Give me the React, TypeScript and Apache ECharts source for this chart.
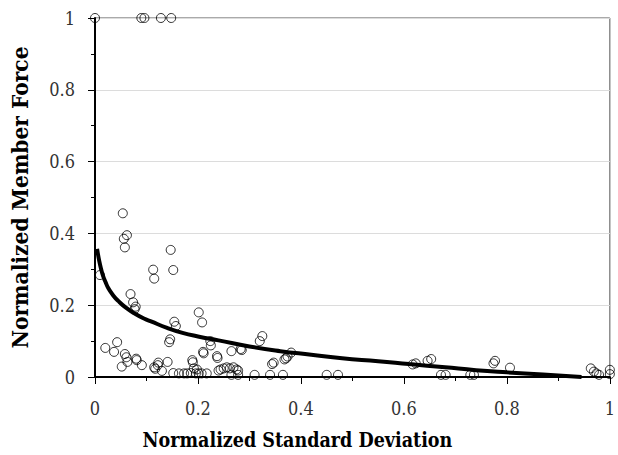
import React, { useEffect, useRef } from "react";
import * as echarts from "echarts";

const xTicks = ["0", "0.2", "0.4", "0.6", "0.8", "1"];
const yTicks = ["0", "0.2", "0.4", "0.6", "0.8", "1"];

const scatterPoints: [number, number][] = [
  [0, 1], [0.09, 1], [0.096, 1], [0.128, 1], [0.148, 1],
  [0.054, 0.456], [0.062, 0.395], [0.056, 0.385], [0.058, 0.361], [0.147, 0.354],
  [0.113, 0.299], [0.115, 0.274], [0.152, 0.298], [0.0096, 0.284],
  [0.069, 0.231], [0.074, 0.208], [0.079, 0.196], [0.077, 0.189], [0.154, 0.154],
  [0.157, 0.142], [0.146, 0.105], [0.144, 0.097], [0.043, 0.097], [0.02, 0.081],
  [0.037, 0.07], [0.058, 0.064], [0.061, 0.055], [0.063, 0.042], [0.052, 0.029],
  [0.08, 0.051], [0.081, 0.047], [0.091, 0.033], [0.115, 0.027], [0.117, 0.023],
  [0.123, 0.04], [0.122, 0.033], [0.141, 0.042], [0.13, 0.017], [0.152, 0.011],
  [0.163, 0.01], [0.173, 0.01], [0.186, 0.011], [0.189, 0.047],
  [0.2015, 0.18], [0.208, 0.152], [0.224, 0.1], [0.225, 0.088], [0.21, 0.07],
  [0.211, 0.066], [0.19, 0.041], [0.237, 0.058], [0.238, 0.053], [0.265, 0.072],
  [0.283, 0.078], [0.285, 0.075], [0.325, 0.114], [0.32, 0.1], [0.347, 0.04],
  [0.344, 0.036], [0.368, 0.049], [0.374, 0.057], [0.381, 0.068],
  [0.179, 0.01], [0.196, 0.01], [0.2015, 0.01], [0.207, 0.01], [0.217, 0.01],
  [0.192, 0.024], [0.198, 0.021], [0.24, 0.018], [0.244, 0.021], [0.25, 0.024],
  [0.256, 0.027], [0.262, 0.024], [0.269, 0.027], [0.275, 0.021], [0.278, 0.018],
  [0.31, 0.006], [0.34, 0.006], [0.365, 0.006], [0.265, 0.006], [0.278, 0.006],
  [0.371, 0.052], [0.45, 0.006], [0.472, 0.006], [0.617, 0.035], [0.623, 0.038],
  [0.646, 0.045], [0.653, 0.05], [0.672, 0.006], [0.681, 0.006], [0.729, 0.006],
  [0.736, 0.006], [0.774, 0.038], [0.777, 0.045], [0.806, 0.026], [0.963, 0.024],
  [0.969, 0.015], [0.974, 0.01], [0.979, 0.006], [1.0, 0.008], [1.0, 0.02],
];

const curvePoints: [number, number][] = [
  [0.004, 0.357], [0.008, 0.325], [0.012, 0.3], [0.016, 0.28], [0.02, 0.266],
  [0.026, 0.247], [0.035, 0.228], [0.045, 0.212], [0.06, 0.193], [0.077, 0.177],
  [0.095, 0.163], [0.11, 0.154], [0.14, 0.137], [0.17, 0.123], [0.2, 0.113],
  [0.24, 0.102], [0.3, 0.085], [0.36, 0.072], [0.42, 0.062], [0.48, 0.052],
  [0.55, 0.044], [0.61, 0.036], [0.68, 0.027], [0.74, 0.019], [0.8, 0.013],
  [0.87, 0.007], [0.945, 0.0],
];

const FONT = "DejaVu Serif Condensed, DejaVu Serif";

export default function App() {
  const ref = useRef<HTMLDivElement>(null);
  useEffect(() => {
    document.body.style.margin = "0";
    const chart = echarts.init(ref.current!, undefined, { renderer: "svg" });
    chart.setOption({
      animation: false,
      backgroundColor: "#fff",
      textStyle: { fontFamily: FONT },
      grid: {
        left: 95,
        right: 2,
        top: 18,
        bottom: 78,
        show: true,
        borderColor: "#555",
        borderWidth: 1,
        backgroundColor: "transparent",
      },
      xAxis: {
        type: "value",
        min: 0,
        max: 1,
        interval: 0.2,
        name: "Normalized Standard Deviation",
        nameLocation: "middle",
        nameGap: 53,
        nameTextStyle: { fontFamily: FONT, fontWeight: "bold", fontSize: 19.5, color: "#000", padding: [0, 110, 0, 0] },
        axisLine: { show: true, onZero: false, lineStyle: { color: "#000", width: 2 } },
        axisTick: { show: true, length: 7, lineStyle: { color: "#000", width: 1 } },
        minorTick: { show: true, splitNumber: 2, length: 4, lineStyle: { color: "#000", width: 1 } },
        axisLabel: {
          margin: 22,
          fontFamily: FONT,
          fontSize: 18,
          color: "#333",
          formatter: (v: number) => xTicks[Math.round(v / 0.2)] ?? String(v),
        },
        splitLine: { show: false },
      },
      yAxis: {
        type: "value",
        min: 0,
        max: 1,
        interval: 0.2,
        name: "Normalized Member Force",
        nameLocation: "middle",
        nameGap: 64,
        nameTextStyle: { fontFamily: FONT, fontWeight: "bold", fontSize: 22.5, color: "#000" },
        axisLine: { show: true, onZero: false, lineStyle: { color: "#000", width: 2 } },
        axisTick: { show: true, length: 7, lineStyle: { color: "#000", width: 1 } },
        minorTick: { show: true, splitNumber: 2, length: 4, lineStyle: { color: "#000", width: 1 } },
        axisLabel: {
          margin: 20,
          fontFamily: FONT,
          fontSize: 18,
          color: "#333",
          formatter: (v: number) => yTicks[Math.round(v / 0.2)] ?? String(v),
        },
        splitLine: { show: true, lineStyle: { color: "#dcdcdc", width: 1 } },
      },
      series: [
        {
          type: "scatter",
          data: scatterPoints,
          symbol: "circle",
          symbolSize: 9,
          clip: false,
          itemStyle: { color: "transparent", borderColor: "#000", borderWidth: 1 },
          z: 2,
        },
        {
          type: "line",
          data: curvePoints,
          smooth: true,
          showSymbol: false,
          symbol: "none",
          lineStyle: { color: "#000", width: 4 },
          z: 3,
        },
      ],
    });
    return () => chart.dispose();
  }, []);
  return <div ref={ref} style={{ width: 618, height: 455 }} />;
}
